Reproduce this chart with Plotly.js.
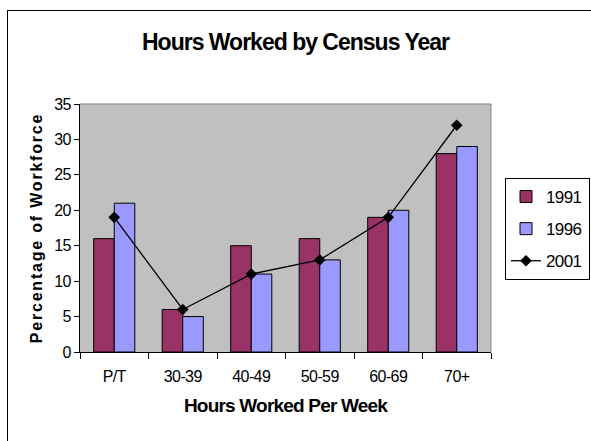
<!DOCTYPE html>
<html><head><meta charset="utf-8">
<script src="https://cdn.plot.ly/plotly-3.0.1.min.js"></script>
<style>
html,body{margin:0;padding:0;background:#fff;}
#wrap{position:relative;width:591px;height:441px;overflow:hidden;}
#frame{position:absolute;left:7px;top:10px;width:600px;height:450px;border:1px solid #000;box-sizing:border-box;pointer-events:none;}
#chart{position:absolute;left:0;top:0;width:591px;height:441px;}
</style></head>
<body><div id="wrap"><div id="chart"></div><div id="frame"></div></div>
<script>
const categories = ["P/T","30-39","40-49","50-59","60-69","70+"];
const v1991 = [16, 6, 15, 16, 19, 28];
const v1996 = [21, 5, 11, 13, 20, 29];
const v2001 = [19, 6, 11, 13, 19, 32];
const yTicks = [0,5,10,15,20,25,30,35];

const fam = 'Arial, "Liberation Sans", sans-serif';
const traces = [
  {type:'bar', name:'1991', x:categories, y:v1991, legendgroup:'a',
   marker:{color:'#993366', line:{color:'#000', width:1}}},
  {type:'bar', name:'1996', x:categories, y:v1996, legendgroup:'b',
   marker:{color:'#9999FF', line:{color:'#000', width:1}}},
  {type:'scatter', mode:'lines+markers', name:'2001', x:categories, y:v2001, legendgroup:'c',
   line:{color:'#000', width:1.3}, marker:{symbol:'diamond', size:9, color:'#000'}}
];
const layout = {
  width:591, height:441,
  margin:{l:80, r:0, t:104, b:89, autoexpand:false},
  paper_bgcolor:'rgba(0,0,0,0)', plot_bgcolor:'#C0C0C0',
  barmode:'group', bargap:0.4, bargroupgap:0,
  showlegend:true,
  title:{text:'<b>Hours Worked by Census Year</b>', x:301, xref:'container', xanchor:'center', y:0.905, yanchor:'middle',
         font:{family:fam, size:23, color:'#000'}},
  xaxis:{type:'category', domain:[0, 411/511], tickson:'boundaries', ticks:'outside', ticklen:6, tickcolor:'#000',
         showline:true, linecolor:'#000', linewidth:1, mirror:false, showgrid:false,
         tickfont:{family:fam, size:16, color:'#000'}, ticklabelstandoff:10,
         title:{text:'<b>Hours Worked Per Week</b>', standoff:14, font:{family:fam, size:19, color:'#000'}}},
  yaxis:{range:[0,35], tickvals:yTicks, ticks:'outside', ticklen:5, tickcolor:'#000',
         showline:true, linecolor:'#000', linewidth:1, showgrid:false, zeroline:false,
         tickfont:{family:fam, size:16, color:'#000'},
         title:{text:'<b>Percentage of Workforce</b>', standoff:6, font:{family:fam, size:16, color:'#000'}}},
  legend:{x:(505-80)/511, xanchor:'left', y:(352-178)/248, yanchor:'top', bgcolor:'#fff', bordercolor:'#000', borderwidth:1,
          font:{family:fam, size:17, color:'#000'}, tracegroupgap:7, traceorder:'grouped'},
  shapes:[
    {type:'line', xref:'paper', yref:'paper', x0:0, x1:411/511, y0:1, y1:1, line:{color:'#808080', width:1}},
    {type:'line', xref:'paper', yref:'paper', x0:411/511, x1:411/511, y0:0, y1:1, line:{color:'#808080', width:1}}
  ]
};
Plotly.newPlot('chart', traces, layout, {displayModeBar:false, staticPlot:true}).then(function(gd){
  const ls = function(sel, v){ document.querySelectorAll(sel).forEach(function(t){ t.style.letterSpacing = v; }); };
  ls('.gtitle', '-1px');
  ls('.xtitle', '-0.8px');
  ls('.ytitle', '1.8px');
  ls('.xtick text', '-0.6px');
  ls('.ytick text', '-0.6px');
  ls('.legendtext', '-0.6px');
});
</script></body></html>
